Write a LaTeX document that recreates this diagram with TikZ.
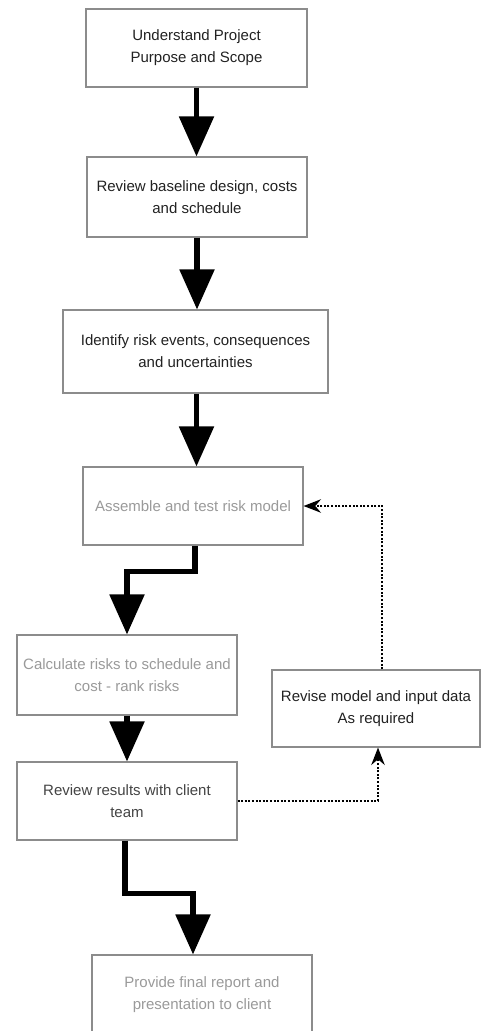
\documentclass[tikz,border=0pt]{standalone}
\usepackage{fontspec}
\setmainfont{Liberation Sans}
\usetikzlibrary{arrows.meta}
\definecolor{txtdark}{HTML}{222222}
\definecolor{txtmid}{HTML}{444444}
\definecolor{txtlight}{HTML}{9A9A9A}
\definecolor{boxline}{HTML}{8C8C8C}
\tikzset{
  stepbox/.style={draw=boxline, line width=0.8pt, rectangle, inner sep=0pt,
    align=center, font=\fontsize{11.25}{16.5}\selectfont, text=txtdark},
  lighttext/.style={text=txtlight},
  midtext/.style={text=txtmid},
  bigarrow/.style={draw=black, line width=4pt, line join=miter,
    -{Triangle[width=25.5pt,length=30pt]}},
  loopback/.style={draw=black, line width=2pt, dash pattern=on 1.6pt off 1.1pt,
    -{Stealth[width=10pt,length=13pt]}}
}
\begin{document}
\begin{tikzpicture}[x=0.75pt, y=-0.75pt]
\useasboundingbox (0,0) rectangle (481,1031);
\fill[white] (0,0) rectangle (481,1031);

\node[stepbox, minimum width=165.75pt, minimum height=58.5pt] (b1) at (196.5,48)
  {Understand Project\\Purpose and Scope};
\node[stepbox, minimum width=165pt, minimum height=60pt] (b2) at (197,197)
  {Review baseline design, costs\\and schedule};
\node[stepbox, minimum width=198.75pt, minimum height=62.25pt] (b3) at (195.5,351.5)
  {Identify risk events, consequences\\and uncertainties};
\node[stepbox, lighttext, minimum width=165pt, minimum height=58.5pt] (b4) at (193,506)
  {Assemble and test risk model};
\node[stepbox, lighttext, minimum width=165pt, minimum height=60pt] (calc) at (127,675)
  {Calculate risks to schedule and\\cost - rank risks};
\node[stepbox, midtext, minimum width=165pt, minimum height=58.5pt] (review) at (127,801)
  {Review results with client\\team};
\node[stepbox, minimum width=156pt, minimum height=57.75pt] (revise) at (376,708.5)
  {Revise model and input data\\As required};
\node[stepbox, lighttext, minimum width=165pt, minimum height=59.25pt] (final) at (202,994.5)
  {Provide final report and\\presentation to client};

\draw[bigarrow] (b1.south) -- (b1.south |- b2.north);
\draw[bigarrow] (b2.south) -- (b2.south |- b3.north);
\draw[bigarrow] ([xshift=0.75pt]b3.south) -- ([xshift=0.75pt]b3.south |- b4.north);
\draw[bigarrow] ([xshift=1.5pt]b4.south) -- ++(0,26) -| (calc.north);
\draw[bigarrow] (calc.south) -- (review.north);
\draw[bigarrow] ([xshift=-1.5pt]review.south) -- ++(0,53) -| ([xshift=-6.75pt]final.north);

\draw[loopback] (review.east) -| ([xshift=1.5pt]revise.south);
\draw[loopback] ([xshift=4.5pt]revise.north) |- (b4.east);
\end{tikzpicture}
\end{document}
